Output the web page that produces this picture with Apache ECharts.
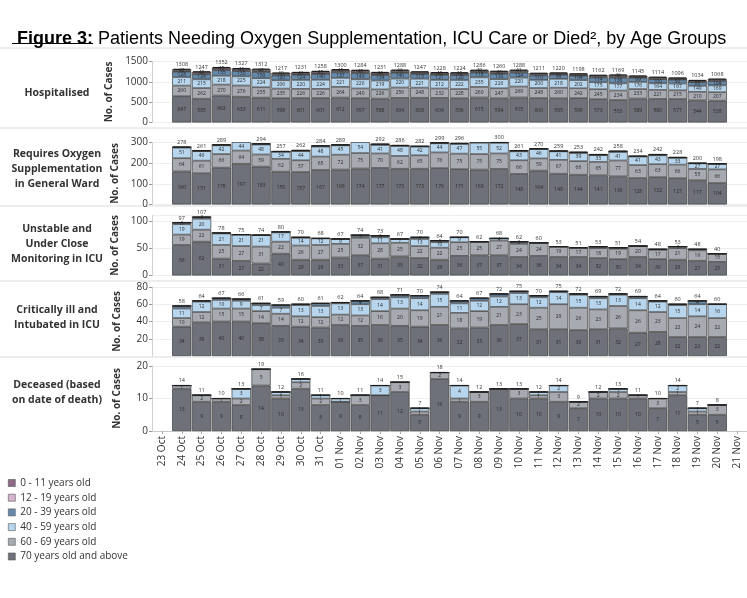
<!DOCTYPE html>
<html>
<head>
<meta charset="utf-8">
<title>Figure 3</title>
<script src="https://cdn.jsdelivr.net/npm/echarts@6/dist/echarts.min.js"></script>
<style>
html, body { margin: 0; padding: 0; background: #fff; }
#main { width: 747px; height: 598px; }
</style>
</head>
<body>
<div id="main"></div>
<script>
// x axis: one empty day on each side of the 28 reported days
var categories = ['23 Oct', '24 Oct', '25 Oct', '26 Oct', '27 Oct', '28 Oct', '29 Oct', '30 Oct', '31 Oct',
    '01 Nov', '02 Nov', '03 Nov', '04 Nov', '05 Nov', '06 Nov', '07 Nov', '08 Nov', '09 Nov', '10 Nov',
    '11 Nov', '12 Nov', '13 Nov', '14 Nov', '15 Nov', '16 Nov', '17 Nov', '18 Nov', '19 Nov', '20 Nov', '21 Nov'];

// stack order, bottom to top
var ageGroups = ['70 years old and above', '60 - 69 years old', '40 - 59 years old',
    '20 - 39 years old', '12 - 19 years old', '0 - 11 years old'];
var ageColors = ['#6e7179', '#a8aab1', '#b7d6ee', '#6489ab', '#d5b5cf', '#8e6a86'];

// Hospitalised
var hospTotal = [1308, 1247, 1352, 1327, 1312, 1217, 1231, 1258, 1300, 1284, 1231, 1288, 1247, 1228,
    1224, 1286, 1260, 1288, 1211, 1220, 1198, 1162, 1169, 1145, 1114, 1096, 1034, 1068];
var hosp70 = [647, 585, 662, 633, 611, 598, 601, 601, 612, 597, 588, 604, 608, 604,
    596, 615, 594, 615, 600, 595, 599, 573, 553, 589, 580, 577, 544, 538];
var hosp60 = [260, 262, 270, 276, 255, 235, 226, 226, 264, 240, 226, 256, 248, 232,
    228, 260, 247, 269, 248, 260, 242, 245, 234, 233, 221, 215, 210, 207];
var hosp40 = [211, 215, 218, 225, 224, 206, 220, 224, 221, 226, 219, 220, 221, 212,
    222, 235, 226, 220, 200, 218, 202, 175, 177, 176, 164, 167, 149, 169];
var hosp20 = [128, 124, 135, 130, 150, 120, 124, 140, 137, 149, 134, 140, 115, 121,
    120, 118, 130, 124, 110, 99, 104, 114, 138, 99, 100, 92, 88, 104];
var hosp12 = [20, 19, 22, 20, 24, 18, 19, 22, 21, 24, 20, 22, 17, 19,
    18, 18, 20, 19, 17, 15, 16, 17, 21, 15, 15, 14, 13, 16];
var hosp0 = [42, 42, 45, 43, 48, 40, 41, 45, 45, 48, 44, 46, 38, 40,
    40, 40, 43, 41, 36, 33, 35, 38, 46, 33, 34, 31, 30, 34];

// Requires oxygen supplementation in general ward
var oxyTotal = [278, 261, 289, 308, 294, 257, 262, 284, 289, 307, 292, 286, 282, 299,
    296, 301, 300, 261, 270, 259, 253, 242, 258, 234, 242, 228, 200, 198];
var oxy70 = [160, 151, 178, 197, 183, 159, 157, 167, 169, 174, 177, 173, 173, 176,
    171, 169, 172, 148, 164, 149, 144, 141, 136, 128, 132, 127, 117, 104];
var oxy60 = [64, 61, 66, 64, 59, 62, 57, 65, 72, 75, 70, 62, 65, 76,
    75, 75, 75, 66, 59, 67, 66, 65, 77, 63, 63, 66, 55, 66];
var oxy40 = [51, 46, 42, 44, 48, 34, 44, 48, 45, 54, 41, 48, 42, 44,
    47, 55, 52, 43, 46, 41, 39, 33, 41, 41, 43, 33, 27, 27];
var oxy20 = [2, 2, 2, 2, 3, 1, 3, 3, 2, 3, 3, 2, 1, 2,
    2, 1, 1, 3, 0, 1, 3, 2, 3, 1, 3, 1, 0, 0];
var oxy12 = [0, 0, 0, 0, 0, 0, 0, 0, 0, 0, 0, 0, 0, 0,
    0, 0, 0, 0, 0, 0, 0, 0, 0, 0, 0, 0, 0, 0];
var oxy0 = [1, 1, 1, 1, 1, 1, 1, 1, 1, 1, 1, 1, 1, 1,
    1, 1, 0, 1, 1, 1, 1, 1, 1, 1, 1, 1, 1, 1];

// Unstable and under close monitoring in ICU
var unstTotal = [97, 107, 78, 75, 74, 80, 70, 68, 67, 74, 73, 67, 70, 64,
    70, 62, 68, 62, 60, 53, 51, 53, 51, 54, 48, 53, 48, 40];
var unst70 = [56, 62, 31, 27, 22, 40, 29, 29, 33, 37, 31, 35, 32, 29,
    36, 37, 37, 34, 36, 34, 34, 32, 30, 34, 30, 29, 27, 25];
var unst60 = [19, 22, 25, 27, 31, 22, 26, 27, 25, 32, 28, 25, 22, 22,
    25, 25, 27, 24, 24, 19, 17, 18, 19, 20, 17, 21, 19, 15];
var unst40 = [19, 20, 21, 21, 21, 17, 14, 12, 9, 3, 11, 7, 13, 10,
    9, 0, 4, 3, 0, 0, 0, 2, 2, 0, 1, 3, 2, 0];
var unst20 = [3, 3, 1, 0, 0, 1, 1, 0, 0, 2, 3, 0, 3, 3,
    0, 0, 0, 1, 0, 0, 0, 1, 0, 0, 0, 0, 0, 0];
var unst12 = [0, 0, 0, 0, 0, 0, 0, 0, 0, 0, 0, 0, 0, 0,
    0, 0, 0, 0, 0, 0, 0, 0, 0, 0, 0, 0, 0, 0];
var unst0 = [0, 0, 0, 0, 0, 0, 0, 0, 0, 0, 0, 0, 0, 0,
    0, 0, 0, 0, 0, 0, 0, 0, 0, 0, 0, 0, 0, 0];

// Critically ill and intubated in ICU
var critTotal = [58, 64, 67, 66, 61, 59, 60, 61, 62, 64, 68, 71, 70, 74,
    64, 67, 72, 75, 70, 75, 72, 69, 72, 69, 64, 60, 64, 60];
var crit70 = [34, 39, 40, 40, 38, 35, 34, 33, 36, 35, 36, 35, 34, 36,
    32, 33, 36, 37, 31, 31, 30, 31, 32, 27, 28, 22, 22, 22];
var crit60 = [10, 12, 15, 15, 14, 14, 12, 12, 12, 12, 16, 20, 19, 21,
    18, 19, 21, 23, 25, 29, 26, 23, 26, 26, 23, 22, 24, 22];
var crit40 = [11, 12, 10, 9, 7, 7, 13, 13, 13, 13, 14, 13, 14, 15,
    11, 12, 12, 13, 12, 14, 15, 13, 13, 14, 12, 15, 14, 16];
var crit20 = [3, 1, 2, 2, 2, 3, 1, 3, 1, 4, 2, 3, 3, 2,
    3, 3, 3, 2, 2, 1, 1, 2, 1, 2, 1, 1, 4, 0];
var crit12 = [0, 0, 0, 0, 0, 0, 0, 0, 0, 0, 0, 0, 0, 0,
    0, 0, 0, 0, 0, 0, 0, 0, 0, 0, 0, 0, 0, 0];
var crit0 = [0, 0, 0, 0, 0, 0, 0, 0, 0, 0, 0, 0, 0, 0,
    0, 0, 0, 0, 0, 0, 0, 0, 0, 0, 0, 0, 0, 0];

// Deceased (based on date of death)
var deadTotal = [14, 11, 10, 13, 19, 12, 16, 11, 10, 11, 14, 15, 7, 18,
    14, 12, 13, 13, 12, 14, 9, 12, 13, 11, 10, 14, 7, 8];
var dead70 = [13, 9, 9, 8, 14, 10, 13, 8, 9, 8, 11, 12, 5, 16,
    9, 9, 13, 10, 10, 9, 7, 10, 10, 10, 7, 11, 5, 5];
var dead60 = [1, 2, 1, 2, 5, 1, 2, 2, 0, 3, 0, 3, 1, 2,
    1, 3, 0, 3, 1, 3, 2, 2, 2, 1, 3, 1, 1, 3];
var dead40 = [0, 0, 0, 3, 0, 1, 1, 1, 1, 0, 3, 0, 1, 0,
    4, 0, 0, 0, 1, 2, 0, 0, 1, 0, 0, 2, 1, 0];
var dead20 = [0, 0, 0, 0, 0, 0, 0, 0, 0, 0, 0, 0, 0, 0,
    0, 0, 0, 0, 0, 0, 0, 0, 0, 0, 0, 0, 0, 0];
var dead12 = [0, 0, 0, 0, 0, 0, 0, 0, 0, 0, 0, 0, 0, 0,
    0, 0, 0, 0, 0, 0, 0, 0, 0, 0, 0, 0, 0, 0];
var dead0 = [0, 0, 0, 0, 0, 0, 0, 0, 0, 0, 0, 0, 0, 0,
    0, 0, 0, 0, 0, 0, 0, 0, 0, 0, 0, 0, 0, 0];

var panels = [
    { label: 'Hospitalised', ages: [hosp70, hosp60, hosp40, hosp20, hosp12, hosp0], total: hospTotal,
      max: 1500, interval: 500, top: 61.5, height: 61, minLbl: 40, labelY: 93 },
    { label: 'Requires Oxygen\nSupplementation\nin General Ward', ages: [oxy70, oxy60, oxy40, oxy20, oxy12, oxy0], total: oxyTotal,
      max: 300, interval: 100, top: 142.5, height: 62, minLbl: 12, labelY: 169 },
    { label: 'Unstable and\nUnder Close\nMonitoring in ICU', ages: [unst70, unst60, unst40, unst20, unst12, unst0], total: unstTotal,
      max: 110, interval: 50, top: 215.5, height: 60, minLbl: 3, labelY: 244 },
    { label: 'Critically ill and\nIntubated in ICU', ages: [crit70, crit60, crit40, crit20, crit12, crit0], total: critTotal,
      max: 80, interval: 20, top: 287, height: 69, minLbl: 4, labelY: 318 },
    { label: 'Deceased (based\non date of death)', ages: [dead70, dead60, dead40, dead20, dead12, dead0], total: deadTotal,
      max: 20, interval: 10, top: 366, height: 65, minLbl: 1, labelY: 393 }
];

var FONT = '"Open Sans", "Liberation Sans", sans-serif';
var TITLE_FONT = '"Liberation Sans", Arial, sans-serif';

// pad the 28 days with an empty slot at each end of the axis
function pad(arr) {
    return [null].concat(arr, [null]);
}

var grids = [], xAxes = [], yAxes = [], series = [];
var graphics = [];

panels.forEach(function (p, i) {
    var last = i === panels.length - 1;
    grids.push({ left: 152, right: 0, top: p.top, height: p.height });

    xAxes.push({
        type: 'category', gridIndex: i, data: categories,
        axisLine: { show: last, lineStyle: { color: '#c8c8c8' } },
        axisTick: { show: last, alignWithLabel: true, length: 3, lineStyle: { color: '#aaa' } },
        axisLabel: { show: last, rotate: 90, fontSize: 10, color: '#333', margin: 5, fontFamily: FONT }
    });

    yAxes.push({
        type: 'value', gridIndex: i, min: 0, max: p.max, interval: p.interval,
        name: 'No. of Cases', nameLocation: 'middle', nameGap: 30,
        nameTextStyle: { fontSize: 10, fontWeight: 'bold', color: '#333', fontFamily: FONT },
        axisLine: { show: true, lineStyle: { color: '#d0d0d0' } },
        axisTick: { show: true, length: 3, lineStyle: { color: '#999' } },
        axisLabel: { fontSize: 10, color: '#333', margin: 4, fontFamily: FONT,
                     formatter: function (v) { return String(v); },
                     showMaxLabel: p.max % p.interval === 0, showMinLabel: i !== 3 },
        splitLine: { lineStyle: { color: '#eeeeee' } }
    });

    p.ages.forEach(function (vals, k) {
        series.push({
            name: ageGroups[k], type: 'bar', stack: 'p' + i,
            xAxisIndex: i, yAxisIndex: i,
            barCategoryGap: '3%',
            data: pad(vals),
            itemStyle: { color: ageColors[k], borderColor: '#3c3c3c', borderWidth: 0.7 },
            label: {
                show: true, position: 'inside', fontSize: 5, color: '#2a2a2a', fontFamily: FONT,
                formatter: function (d) { return d.value >= p.minLbl ? d.value : ''; }
            },
            silent: true
        });
    });

    // totals printed above each bar
    series.push({
        name: 'Total', type: 'line', xAxisIndex: i, yAxisIndex: i,
        data: pad(p.total), symbol: 'rect', symbolSize: [17, 1.2],
        itemStyle: { color: '#1e1e1e' }, lineStyle: { width: 0, opacity: 0 },
        label: { show: true, position: 'top', distance: 1, fontSize: 5.5, color: '#333', fontFamily: FONT },
        silent: true, z: 5
    });

    graphics.push({
        type: 'text',
        style: { text: p.label, x: 57, y: p.labelY, align: 'center', verticalAlign: 'middle',
                 fontSize: 10.5, fontWeight: 'bold', fontFamily: FONT, lineHeight: 15, fill: '#333' }
    });
});

// panel separators
[48, 128, 206, 281, 357].forEach(function (y) {
    graphics.push({ type: 'line', shape: { x1: 0, y1: y, x2: 747, y2: y },
                    style: { stroke: '#dcdcdc', lineWidth: 1 } });
});
// underline of "Figure 3:"
graphics.push({ type: 'line', shape: { x1: 12, y1: 43.5, x2: 93, y2: 43.5 },
                style: { stroke: '#000', lineWidth: 1.2 } });

var option = {
    backgroundColor: '#fff',
    animation: false,
    title: {
        left: 12, top: 25,
        text: '{b|Figure 3:} Patients Needing Oxygen Supplementation, ICU Care or Died², by Age Groups',
        textStyle: {
            fontSize: 18, fontWeight: 'normal', color: '#000', fontFamily: TITLE_FONT,
            rich: { b: { fontSize: 18, fontWeight: 'bold', color: '#000', fontFamily: TITLE_FONT } }
        }
    },
    legend: {
        orient: 'vertical', left: 3, top: 472,
        data: ageGroups.slice().reverse(),
        icon: 'rect', itemWidth: 7, itemHeight: 7, itemGap: 2.7,
        itemStyle: { borderColor: '#555', borderWidth: 0.6 },
        textStyle: { fontSize: 10, color: '#333', fontFamily: FONT, lineHeight: 12 },
        selectedMode: false
    },
    grid: grids,
    xAxis: xAxes,
    yAxis: yAxes,
    series: series,
    graphic: graphics
};

var myChart = echarts.init(document.getElementById('main'));
myChart.setOption(option);
</script>
</body>
</html>
